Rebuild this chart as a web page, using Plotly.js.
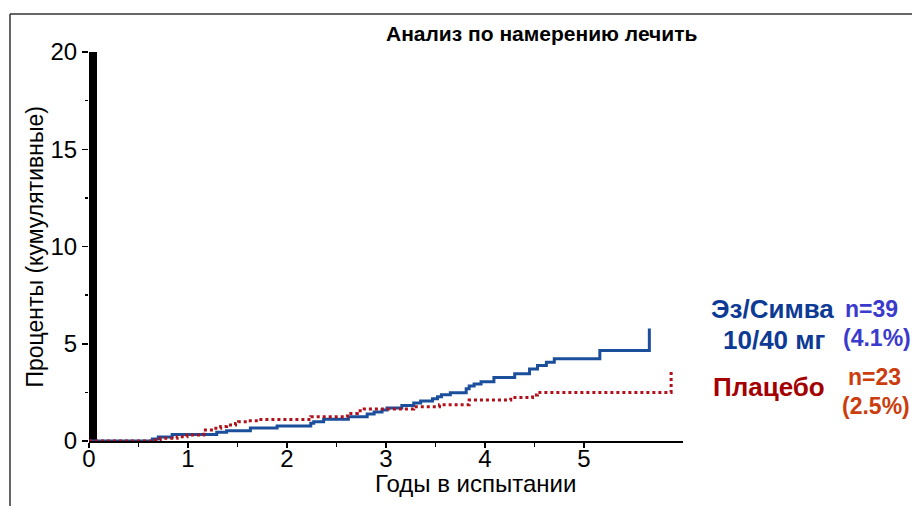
<!DOCTYPE html>
<html>
<head>
<meta charset="utf-8">
<script src="https://cdn.plot.ly/plotly-3.0.1.min.js"></script>
<style>html,body{margin:0;padding:0;background:#fff;}#chart{width:912px;height:506px;}</style>
</head>
<body>
<div id="chart"></div>
<script>
// Эз/Симва 10/40 мг (cumulative %, years)
var ezX = [0, 0.64, 0.70, 0.84, 1.29, 1.39, 1.63, 1.90, 2.24, 2.27, 2.37, 2.62, 2.81, 2.88, 2.96, 3.01, 3.16, 3.28, 3.35, 3.47, 3.52, 3.56, 3.65, 3.81, 3.84, 3.89, 3.96, 4.09, 4.30, 4.45, 4.53, 4.62, 4.70, 5.16, 5.66];
var ezY = [0, 0.10, 0.20, 0.34, 0.45, 0.53, 0.67, 0.77, 0.91, 0.99, 1.12, 1.25, 1.39, 1.49, 1.59, 1.70, 1.83, 1.95, 2.06, 2.17, 2.28, 2.38, 2.48, 2.69, 2.83, 2.93, 3.05, 3.27, 3.46, 3.70, 3.88, 4.05, 4.23, 4.65, 5.79];
// Плацебо
var plX = [0, 0.67, 0.72, 0.89, 0.99, 1.16, 1.26, 1.33, 1.39, 1.48, 1.51, 1.60, 1.71, 2.24, 2.61, 2.71, 2.78, 3.28, 3.54, 3.84, 4.26, 4.48, 4.53, 5.88];
var plY = [0, 0.05, 0.14, 0.22, 0.31, 0.57, 0.65, 0.74, 0.82, 0.90, 0.99, 1.04, 1.11, 1.25, 1.42, 1.56, 1.65, 1.76, 1.87, 2.11, 2.24, 2.37, 2.50, 3.56];

var xTicks = [0, 1, 2, 3, 4, 5];
var xMinor = [0.5, 1.5, 2.5, 3.5, 4.5];
var yTicks = [0, 5, 10, 15, 20];
var yMinor = [2.5, 7.5, 12.5, 17.5];

var FONT = 'Liberation Sans, Arial, sans-serif';

var traces = [
  {x: ezX, y: ezY, type: 'scatter', mode: 'lines', line: {shape: 'hv', color: '#1b4f9c', width: 3}, hoverinfo: 'skip'},
  {x: plX, y: plY, type: 'scatter', mode: 'lines', line: {shape: 'hv', color: '#b0101a', width: 3, dash: 'dot'}, hoverinfo: 'skip'}
];

var layout = {
  width: 912, height: 506,
  margin: {l: 89, r: 229, t: 52, b: 65, pad: 0},
  paper_bgcolor: '#fff', plot_bgcolor: '#fff',
  showlegend: false,
  font: {family: FONT, color: '#000'},
  xaxis: {
    range: [0, 6], showgrid: false, zeroline: false,
    showline: true, linecolor: '#000', linewidth: 2,
    ticks: 'outside', ticklen: 5, tickwidth: 1.5, tickcolor: '#000',
    tickvals: xTicks, ticktext: xTicks.map(String),
    ticklabelstandoff: -10,
    tickfont: {size: 24, family: FONT, color: '#000'},
    minor: {tickvals: xMinor, ticks: 'outside', ticklen: 4, tickwidth: 1.5, tickcolor: '#000'}
  },
  yaxis: {
    range: [0, 20], showgrid: false, zeroline: false, showline: false,
    ticks: 'outside', ticklen: 6, tickwidth: 1.5, tickcolor: '#000',
    tickvals: yTicks, ticktext: yTicks.map(String),
    tickfont: {size: 24, family: FONT, color: '#000'},
    minor: {tickvals: yMinor, ticks: 'outside', ticklen: 3, tickwidth: 1.5, tickcolor: '#000'}
  },
  shapes: [
    {type: 'rect', xref: 'x', yref: 'y', xsizemode: 'pixel', xanchor: 0, x0: 0, x1: 8, y0: 0, y1: 20, fillcolor: '#000', line: {width: 0}, layer: 'below'},
    {type: 'line', xref: 'paper', yref: 'paper', x0: -0.133, x1: 1.4, y0: 1.0977, y1: 1.0977, line: {color: '#333', width: 1.5}},
    {type: 'line', xref: 'paper', yref: 'paper', x0: -0.133, x1: -0.133, y0: 1.0977, y1: -0.2, line: {color: '#333', width: 1.5}}
  ],
  annotations: [
    {text: '<b>Анализ по намерению лечить</b>', xref: 'paper', yref: 'paper', x: 0.761, y: 1.0488, xanchor: 'center', yanchor: 'middle', showarrow: false, font: {size: 21, family: FONT, color: '#000'}},
    {text: 'Проценты (кумулятивные)', xref: 'paper', yref: 'paper', x: -0.0909, y: 0.4974, textangle: -90, xanchor: 'center', yanchor: 'middle', showarrow: false, font: {size: 23, family: FONT, color: '#000'}},
    {text: 'Годы в испытании', xref: 'paper', yref: 'paper', x: 0.6515, y: -0.108, xanchor: 'center', yanchor: 'middle', showarrow: false, font: {size: 24, family: FONT, color: '#000'}},
    {text: '<b>Эз/Симва</b>', xref: 'paper', yref: 'paper', x: 1.1507, y: 0.3393, xanchor: 'center', yanchor: 'middle', showarrow: false, font: {size: 26, family: FONT, color: '#0d3a94'}},
    {text: '<b>10/40 мг</b>', xref: 'paper', yref: 'paper', x: 1.154, y: 0.2596, xanchor: 'center', yanchor: 'middle', showarrow: false, font: {size: 26, family: FONT, color: '#0d3a94'}},
    {text: '<b>n=39</b>', xref: 'paper', yref: 'paper', x: 1.3165, y: 0.3393, xanchor: 'center', yanchor: 'middle', showarrow: false, font: {size: 23, family: FONT, color: '#3a3acc'}},
    {text: '<b>(4.1%)</b>', xref: 'paper', yref: 'paper', x: 1.3266, y: 0.2648, xanchor: 'center', yanchor: 'middle', showarrow: false, font: {size: 23, family: FONT, color: '#3a3acc'}},
    {text: '<b>Плацебо</b>', xref: 'paper', yref: 'paper', x: 1.1456, y: 0.1388, xanchor: 'center', yanchor: 'middle', showarrow: false, font: {size: 26, family: FONT, color: '#a30000'}},
    {text: '<b>n=23</b>', xref: 'paper', yref: 'paper', x: 1.3232, y: 0.1645, xanchor: 'center', yanchor: 'middle', showarrow: false, font: {size: 23, family: FONT, color: '#cc3d0e'}},
    {text: '<b>(2.5%)</b>', xref: 'paper', yref: 'paper', x: 1.325, y: 0.09, xanchor: 'center', yanchor: 'middle', showarrow: false, font: {size: 23, family: FONT, color: '#cc3d0e'}}
  ]
};

Plotly.newPlot('chart', traces, layout, {displayModeBar: false, staticPlot: true});
</script>
</body>
</html>
